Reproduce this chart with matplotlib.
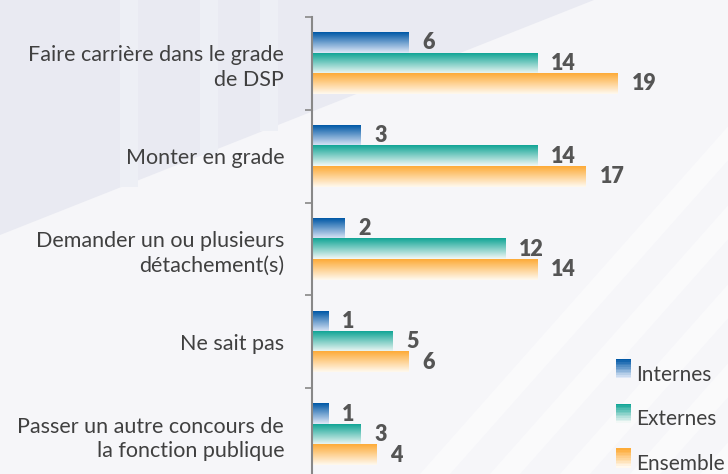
import numpy as np
import matplotlib.pyplot as plt
from matplotlib.colors import LinearSegmentedColormap, to_rgb
from matplotlib.patches import Polygon, Rectangle
from matplotlib.legend_handler import HandlerBase

categories = ["Faire carrière dans le grade\nde DSP", "Monter en grade",
              "Demander un ou plusieurs\ndétachement(s)", "Ne sait pas",
              "Passer un autre concours de\nla fonction publique"]
series = ["Internes", "Externes", "Ensemble"]
internes = [6, 3, 2, 1, 1]
externes = [14, 14, 12, 5, 3]
ensemble = [19, 17, 14, 6, 4]
values = [internes, externes, ensemble]

tops = ["#0058a6", "#12a596", "#fdab38"]
bottoms = ["#dfe8f7", "#f2f8f6", "#fff9ef"]

plt.rcParams['font.family'] = ['Lato', 'DejaVu Sans']

fig = plt.figure(figsize=(7.28, 4.74), dpi=100)
fig.patch.set_facecolor("#f6f6f9")

# background decoration
bg = fig.add_axes([0, 0, 1, 1], zorder=-1)
bg.set_xlim(0, 728)
bg.set_ylim(474, 0)
bg.axis("off")
for k in range(8):
    x0 = 420 + k * 70
    bg.add_patch(Polygon([(x0, 474), (x0 + 30, 474), (x0 + 30 + 420, 0), (x0 + 420, 0)],
                         closed=True, color="white", alpha=0.45, lw=0))
bg.add_patch(Polygon([(0, 0), (594, 0), (0, 235)], closed=True, color="#e9eaf2", lw=0))
for x0 in [120, 200, 260]:
    bg.add_patch(Rectangle((x0, 0), 18, 235 - x0 * 0.4, color="#edeff5", lw=0))

ax = fig.add_axes([312 / 728, -7 / 474, 416 / 728, 464 / 474])
ax.patch.set_alpha(0)

h = 0.22
y = np.arange(len(categories))
for i, (vals, c1, c2) in enumerate(zip(values, tops, bottoms)):
    cmap = LinearSegmentedColormap.from_list(series[i], [c1, c2])
    grad = np.linspace(0, 1, 64).reshape(-1, 1)
    bars = ax.barh(y + (i - 1) * h, vals, height=h, color="none", lw=0)
    for b, v in zip(bars, vals):
        x0, yb, w, hh = b.get_x(), b.get_y(), b.get_width(), b.get_height()
        ax.imshow(grad, cmap=cmap, aspect="auto", origin="upper",
                  extent=(x0, x0 + w, yb + hh, yb), zorder=2)
        ax.annotate(str(v), (x0 + w, yb + hh / 2), xytext=(10, 0),
                    textcoords="offset points", va="center", ha="left",
                    fontsize=15.5, fontweight="heavy", color="#555555")

ax.set_xlim(0, 416 / 16.1)
ax.set_ylim(len(categories) - 0.5, -0.5)
ax.set_yticks(y)
ax.set_yticklabels(categories, fontsize=15.5, color="#404040", linespacing=1.3)
ax.set_yticks(np.arange(-0.5, len(categories)), minor=True)
ax.tick_params(axis="y", which="major", length=0, pad=20)
ax.tick_params(axis="y", which="minor", length=5, color="#888888", width=1.2)
ax.set_xticks([])
for s in ["top", "right", "bottom"]:
    ax.spines[s].set_visible(False)
ax.spines["left"].set_color("#888888")
ax.spines["left"].set_linewidth(1.5)


class GradHandler(HandlerBase):
    def __init__(self, c1, c2):
        super().__init__()
        self.c1, self.c2 = np.array(to_rgb(c1)), np.array(to_rgb(c2))

    def create_artists(self, legend, orig, xd, yd, width, height, fontsize, trans):
        arts = []
        n = 12
        for k in range(n):
            t = k / (n - 1)
            col = self.c1 * (1 - t) + self.c2 * t
            arts.append(Rectangle((xd, yd + height * (1 - (k + 1) / n)), width, height / n,
                                  facecolor=col, lw=0, transform=trans))
        return arts


handles = [Rectangle((0, 0), 1, 1) for _ in series]
leg = fig.legend(handles, series, loc="lower left", bbox_to_anchor=(597 / 728, -0.04),
                 frameon=False, fontsize=15, labelcolor="#404040",
                 handlelength=0.75, handleheight=1.05, handletextpad=0.25,
                 labelspacing=1.15,
                 handler_map={h_: GradHandler(c1, c2) for h_, c1, c2 in zip(handles, tops, bottoms)})

fig.savefig("out.png", dpi=100, facecolor=fig.get_facecolor())
